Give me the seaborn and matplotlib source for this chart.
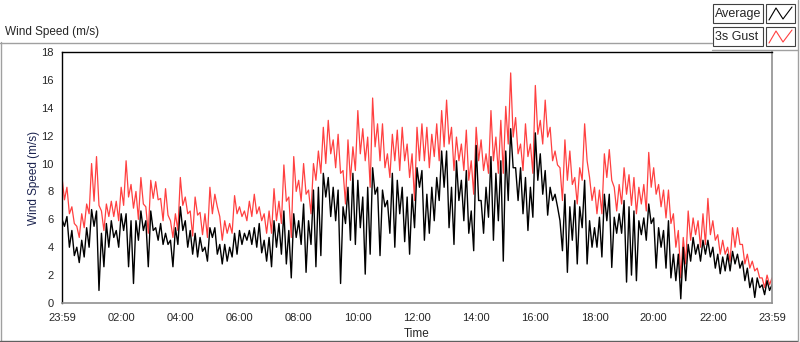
import numpy as np
import pandas as pd
import matplotlib
matplotlib.use('Agg')
import matplotlib.pyplot as plt
from matplotlib.lines import Line2D
from matplotlib.patches import Rectangle
import seaborn as sns

# values in 10 minute bins: upper and lower reading in each bin
gust_hi = [9.0, 8.3, 6.9, 5.5, 6.4, 7.1, 10.0, 10.5, 6.6, 7.1, 7.3, 7.3,
           8.3, 10.2, 8.5, 8.0, 9.0, 6.9, 8.8, 8.7, 7.5, 8.2, 5.9, 6.4,
           9.0, 7.6, 6.6, 7.6, 6.5, 6.4, 8.3, 7.8, 6.2, 5.9, 5.7, 7.7,
           6.9, 6.6, 7.3, 7.8, 6.9, 6.4, 6.6, 8.2, 7.3, 9.9, 7.6, 10.5,
           8.8, 10.0, 8.1, 10.0, 10.9, 12.6, 13.1, 11.7, 12.1, 9.5, 11.7, 11.2,
           13.8, 12.5, 11.9, 14.7, 12.85, 12.85, 10.7, 12.1, 12.4, 12.6, 11.4, 10.7,
           12.6, 12.85, 12.6, 12.1, 12.85, 13.8, 14.55, 12.6, 11.9, 11.4, 12.4, 10.2,
           12.6, 11.7, 10.7, 13.8, 11.9, 13.1, 14.1, 16.5, 13.3, 11.4, 12.85, 11.4,
           15.6, 13.1, 14.55, 12.6, 10.9, 9.7, 11.7, 10.9, 9.0, 9.7, 12.85, 9.0,
           8.3, 8.1, 10.7, 11.0, 8.3, 8.5, 9.7, 9.2, 9.0, 8.3, 8.5, 10.8,
           9.7, 8.5, 8.1, 8.1, 6.4, 5.2, 4.7, 6.6, 6.1, 5.9, 6.4, 7.5,
           5.9, 4.9, 4.5, 4.0, 5.4, 5.4, 4.2, 3.5, 3.0, 2.5, 1.8, 2.0]
gust_lo = [7.4, 6.4, 5.7, 4.7, 5.4, 6.4, 7.3, 7.0, 5.2, 6.2, 6.2, 5.9,
           7.0, 7.6, 6.8, 6.0, 7.1, 5.0, 7.5, 7.4, 5.9, 6.3, 4.7, 5.2,
           7.0, 6.4, 4.8, 6.3, 4.9, 4.7, 6.4, 6.9, 4.5, 5.0, 5.0, 6.4,
           6.2, 5.9, 6.2, 6.4, 5.9, 5.0, 5.0, 5.9, 5.7, 7.3, 4.7, 8.0,
           7.3, 7.8, 6.4, 8.8, 9.3, 10.0, 10.7, 9.7, 9.3, 7.1, 8.8, 9.5,
           10.7, 10.2, 8.3, 11.2, 10.2, 9.7, 9.0, 10.2, 9.5, 10.2, 9.0, 7.35,
           10.2, 10.2, 9.7, 10.5, 10.2, 11.2, 11.4, 9.5, 10.2, 9.5, 8.8, 7.8,
           10.2, 9.5, 9.3, 10.2, 9.3, 9.3, 11.4, 11.9, 10.7, 9.5, 10.5, 9.3,
           12.1, 11.4, 11.9, 10.2, 9.9, 7.35, 8.8, 8.5, 7.1, 8.8, 10.2, 7.35,
           6.4, 6.4, 9.0, 8.8, 6.6, 7.1, 7.8, 7.0, 6.4, 7.1, 6.6, 8.3,
           7.8, 6.9, 6.1, 5.7, 4.0, 1.8, 2.8, 4.5, 4.9, 4.0, 4.2, 4.9,
           4.5, 3.5, 3.5, 3.0, 4.0, 4.2, 2.8, 2.5, 2.3, 1.8, 1.1, 1.3]
avg_hi = [6.0, 6.2, 5.2, 4.0, 4.5, 5.4, 6.7, 6.6, 5.0, 5.7, 5.9, 5.2,
          6.4, 6.4, 5.9, 5.9, 6.6, 5.9, 6.6, 5.4, 5.7, 5.0, 4.5, 5.4,
          6.9, 5.9, 5.2, 5.0, 4.7, 4.0, 5.4, 5.4, 4.2, 4.2, 4.0, 5.0,
          5.2, 5.0, 5.2, 5.4, 5.7, 4.5, 4.7, 5.9, 5.7, 6.6, 5.2, 6.4,
          5.9, 7.1, 5.9, 8.1, 8.3, 9.3, 9.0, 8.3, 8.1, 6.9, 8.3, 9.3,
          8.8, 7.6, 8.3, 9.7, 8.3, 8.1, 7.35, 9.3, 8.8, 8.3, 7.6, 7.8,
          9.7, 9.5, 7.8, 8.3, 9.0, 10.9, 10.9, 8.3, 10.2, 8.8, 9.5, 6.6,
          11.3, 7.35, 8.3, 10.5, 9.3, 10.2, 10.9, 12.5, 9.7, 9.7, 9.0, 8.3,
          12.2, 10.7, 9.5, 8.3, 7.8, 5.9, 7.8, 6.9, 7.35, 6.9, 8.8, 5.9,
          5.4, 6.15, 7.8, 7.8, 6.15, 6.4, 7.35, 6.9, 6.6, 5.9, 6.1, 7.1,
          6.1, 5.4, 5.2, 5.9, 3.5, 3.5, 4.0, 4.2, 4.7, 4.2, 4.5, 4.5,
          4.0, 3.5, 3.3, 3.5, 3.7, 3.5, 3.0, 2.5, 1.8, 1.8, 1.3, 1.6]
avg_lo = [5.5, 4.0, 3.4, 2.9, 3.3, 4.0, 5.5, 0.9, 2.6, 4.0, 4.7, 4.0,
          5.2, 2.6, 1.4, 4.5, 5.2, 2.6, 5.2, 4.5, 4.2, 4.2, 2.6, 4.2,
          5.2, 4.0, 3.5, 3.3, 3.7, 3.0, 4.7, 3.5, 2.8, 3.0, 3.3, 3.5,
          4.2, 4.5, 4.2, 4.0, 3.6, 3.0, 2.6, 4.0, 3.5, 2.8, 1.8, 4.7,
          4.2, 2.2, 4.2, 2.6, 3.4, 7.6, 6.2, 5.9, 1.4, 5.7, 4.5, 4.2,
          5.4, 2.07, 3.5, 7.8, 3.4, 6.9, 5.0, 4.0, 6.4, 4.4, 3.5, 5.4,
          8.3, 4.5, 5.0, 5.9, 7.35, 8.3, 5.4, 4.2, 7.35, 5.9, 5.0, 3.75,
          7.35, 5.0, 6.15, 4.5, 5.9, 3.0, 7.35, 9.7, 7.35, 6.4, 5.2, 6.15,
          8.8, 7.8, 6.3, 7.35, 6.9, 3.75, 2.2, 4.5, 2.8, 5.4, 2.8, 4.0,
          4.0, 3.3, 5.9, 2.55, 5.0, 5.0, 1.5, 2.0, 1.6, 4.9, 4.5, 5.7,
          2.5, 4.0, 2.5, 1.8, 1.6, 0.3, 1.6, 3.0, 3.5, 3.0, 3.5, 3.3,
          2.5, 2.1, 2.3, 2.3, 2.8, 2.5, 1.6, 1.1, 0.4, 1.1, 0.6, 0.9]
last_gust = 1.8
last_avg = 1.3
hour_labels = ['23:59', '02:00', '04:00', '06:00', '08:00', '10:00', '12:00',
               '14:00', '16:00', '18:00', '20:00', '22:00', '23:59']

gust = list(np.column_stack([gust_hi, gust_lo]).ravel()) + [last_gust]
avg = list(np.column_stack([avg_hi, avg_lo]).ravel()) + [last_avg]
df = pd.DataFrame({'hours': np.arange(len(gust)) * 5 / 60.0,
                   'gust': gust, 'avg': avg})

sns.set_style('white')
plt.rcParams['font.family'] = ['Liberation Sans', 'DejaVu Sans']
plt.rcParams['font.size'] = 8

W, H = 800, 342
fig = plt.figure(figsize=(8, 3.42), dpi=100)
fig.patch.set_facecolor('white')
ax = fig.add_axes([62 / W, 1 - 303 / H, 710 / W, 251 / H])

sns.lineplot(data=df, x='hours', y='gust', ax=ax, color='#ff4040',
             lw=0.9, estimator=None, sort=False)
sns.lineplot(data=df, x='hours', y='avg', ax=ax, color='black',
             lw=1.0, estimator=None, sort=False)

ax.set_xlim(0, 24)
ax.set_ylim(0, 18)
ax.set_xticks(np.arange(0, 25, 2))
ax.set_xticklabels(hour_labels)
ax.set_xticks(np.arange(0, 24.01, 0.25), minor=True)
ax.set_yticks(np.arange(0, 19, 2))
ax.tick_params(axis='both', which='major', direction='out', length=4,
               width=0.8, color='black', labelsize=8, pad=2)
ax.tick_params(axis='x', which='minor', direction='out', length=2.5,
               width=0.8, color='black')
ax.tick_params(axis='x', which='major', length=5)
ax.set_xlabel('Time', fontsize=8.5, labelpad=4)
ax.set_ylabel('Wind Speed (m/s)', fontsize=8.5, color='#1c2450', labelpad=1)
for side in ['top', 'left']:
    ax.spines[side].set_color('black')
    ax.spines[side].set_linewidth(1.0)
for side in ['right', 'bottom']:
    ax.spines[side].set_color('#909090')
    ax.spines[side].set_linewidth(1.2)


def fx(x):
    return x / W


def fy(y):
    return 1 - y / H


def fline(xs, ys, color='#a0a0a0', lw=1.0):
    fig.add_artist(Line2D([fx(v) for v in xs], [fy(v) for v in ys],
                          transform=fig.transFigure, color=color, lw=lw))


# panel frame
fline([0, 712], [42.5, 42.5])
fline([0.5, 0.5], [42, 341])
fline([0, 798], [340.5, 340.5], color='#606060')
fline([797.5, 797.5], [0, 341])
fline([712, 798], [49.5, 49.5])
fig.text(fx(5), fy(32), 'Wind Speed (m/s)', fontsize=8.5, va='center', ha='left')

# legend boxes
for row, (name, col) in enumerate([('Average', 'black'), ('3s Gust', '#ff4040')]):
    top = 4 + row * 23
    fig.add_artist(Rectangle((fx(713), fy(top + 19)), 50 / W, 19 / H,
                             transform=fig.transFigure, fill=False,
                             edgecolor='#404040', lw=0.8))
    fig.text(fx(715), fy(top + 9.5), name, fontsize=9, va='center', ha='left')
    fig.add_artist(Rectangle((fx(766), fy(top + 19)), 29 / W, 19 / H,
                             transform=fig.transFigure, fill=False,
                             edgecolor='#404040', lw=0.8))
    fline([769, 776, 783, 792], [top + 16, top + 4, top + 15, top + 3],
          color=col, lw=0.8)

fig.savefig('out.png', dpi=100, facecolor='white')
